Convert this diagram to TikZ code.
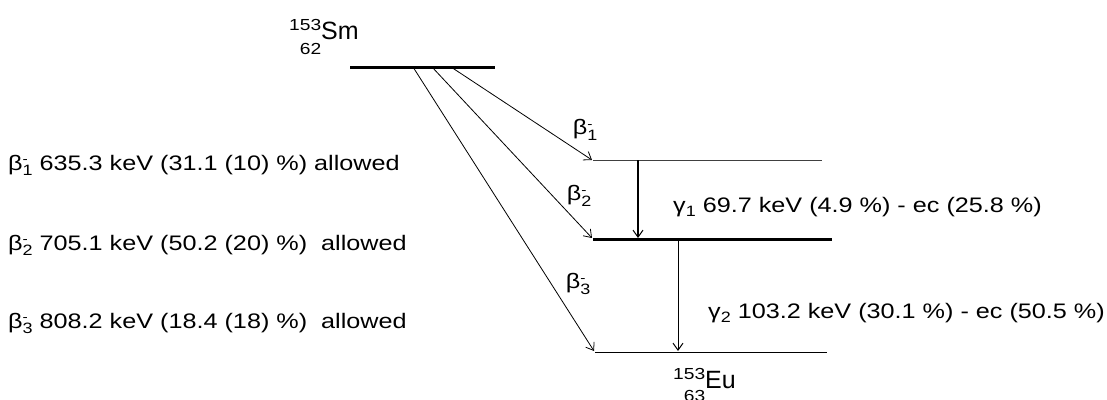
\documentclass[tikz,border=0pt]{standalone}
\usepackage{fontspec}
\setmainfont[FakeStretch=1.2]{Liberation Sans}
\newfontfamily\elemfont{Liberation Sans}
\usetikzlibrary{arrows.meta}
% beta-minus with stacked sign and index
\newcommand\betam[1]{β\rlap{\raisebox{0.55ex}{\fontsize{13}{13}\selectfont -}}\raisebox{-0.5ex}{\fontsize{15}{15}\selectfont #1}}
\newcommand\gam[1]{γ\raisebox{-0.4ex}{\fontsize{15}{15}\selectfont #1}}
% nuclide symbol with mass and charge numbers on the left
\newcommand\nuclide[5]{{\fontsize{16}{16}\selectfont\rlap{\raisebox{#4}{#1}}\raisebox{#5}{\phantom{1}#2}}{\elemfont #3}}
\begin{document}
\begin{tikzpicture}[x=1pt,y=-1pt,
  txt/.style={font=\fontsize{21}{24}\selectfont, inner sep=0pt, anchor=base west},
  lbl/.style={font=\fontsize{21}{24}\selectfont, inner sep=0pt},
  nuc/.style={font=\fontsize{25}{28}\selectfont, inner sep=0pt, anchor=base west},
  level/.style={line width=1pt},
  thicklevel/.style={line width=3pt},
  decay/.style={line width=0.8pt, -{Straight Barb[length=7pt,width=10pt]}},
  gammathick/.style={line width=2.5pt, -{Straight Barb[length=7pt,width=10pt,line width=1pt]}},
  gammathin/.style={line width=1pt, -{Straight Barb[length=7pt,width=10pt]}}]
\useasboundingbox (0,0) rectangle (1107,399);

% energy levels
\coordinate (smL) at (350,67);  \coordinate (smR) at (495,67);
\coordinate (l1L) at (593,160); \coordinate (l1R) at (822,160);
\coordinate (l2L) at (593,239); \coordinate (l2R) at (832,239);
\coordinate (l3L) at (595,352); \coordinate (l3R) at (827,352);
\draw[thicklevel] (smL) -- (smR);
\draw[level, black!75] (l1L) -- (l1R);
\draw[thicklevel] (l2L) -- (l2R);
\draw[level] (l3L) -- (l3R);

% beta branches
\coordinate (b1s) at (451,67); \coordinate (b1e) at (592,160);
\coordinate (b2s) at (432,67); \coordinate (b2e) at (592,238);
\coordinate (b3s) at (413,67); \coordinate (b3e) at (594,351);
\draw[decay] (b1s) -- (b1e);
\draw[decay] (b2s) -- (b2e);
\draw[decay] (b3s) -- (b3e);

% gamma transitions
\coordinate (g1s) at (638,160); \coordinate (g1e) at (638,238);
\coordinate (g2s) at (678,240); \coordinate (g2e) at (678,351);
\draw[gammathick] (g1s) -- (g1e);
\draw[gammathin] (g2s) -- (g2e);

% branch labels
\node[lbl] (lb1) at (585,130) {\betam{1}};
\node[lbl] (lb2) at (579,196) {\betam{2}};
\node[lbl] (lb3) at (578,284) {\betam{3}};

% nuclides
\node[nuc] (sm) at (289,39) {\nuclide{153}{62}{Sm}{9pt}{-15pt}};
\node[nuc] (eu) at (673,388) {\nuclide{153}{63}{Eu}{8.5pt}{-13pt}};

% branch data
\node[txt] (t1) at (8,170) {\betam{1} 635.3 keV (31.1 (10) \%) allowed};
\node[txt] (t2) at (8,250) {\betam{2} 705.1 keV (50.2 (20) \%)\ \ allowed};
\node[txt] (t3) at (8,328) {\betam{3} 808.2 keV (18.4 (18) \%)\ \ allowed};
\node[txt] (tg1) at (673,212) {\gam{1} 69.7 keV (4.9 \%) - ec (25.8 \%)};
\node[txt] (tg2) at (708,318) {\gam{2} 103.2 keV (30.1 \%) - ec (50.5 \%)};
\end{tikzpicture}
\end{document}
